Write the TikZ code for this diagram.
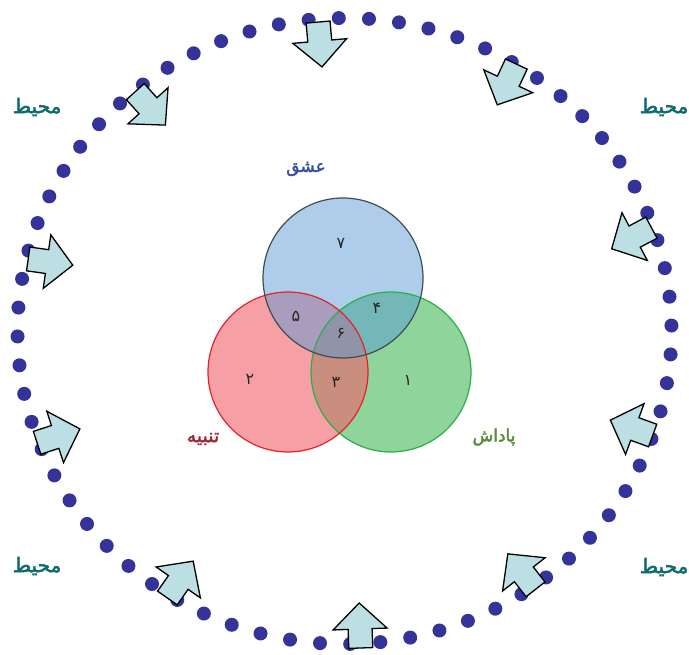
\documentclass[tikz,border=0pt]{standalone}
\usepackage{fontspec}
\newfontfamily\arabicfont[Script=Arabic]{DejaVu Sans}
\newfontfamily\arabicbold[Script=Arabic,FakeBold=2.2]{DejaVu Sans}
\TeXXeTstate=1
\definecolor{dotblue}{HTML}{333399}
\definecolor{arrfill}{HTML}{BCDFE3}
\definecolor{tealtxt}{HTML}{0E6B6B}
\definecolor{lovetxt}{HTML}{3B4EA6}
\definecolor{puntxt}{HTML}{9E2A36}
\definecolor{rewtxt}{HTML}{5B8A3C}
\definecolor{bluefill}{HTML}{5B9BD5}
\definecolor{bluestroke}{HTML}{3E4C52}
\definecolor{redfill}{HTML}{F0606A}
\definecolor{redstroke}{HTML}{E4202A}
\definecolor{greenfill}{HTML}{8FD59B}
\definecolor{greenstroke}{HTML}{2AAE4A}
\begin{document}
\begin{tikzpicture}[x=1pt,y=-1pt,
  envlabel/.style={font=\arabicbold\fontsize{20}{22}\selectfont, text=tealtxt},
  setlabel/.style={font=\arabicbold\fontsize{17}{20}\selectfont},
  numlabel/.style={font=\arabicfont\fontsize{16}{18}\selectfont, text=black!85},
  dotstyle/.style={fill=dotblue, draw=none},
  arrowshape/.style={fill=arrfill, draw=black, line width=1.3pt, line join=miter}]
\useasboundingbox (0,0) rectangle (689,655);
% dotted ring
\foreach \i in {0,...,67}{
  \pgfmathsetmacro{\ang}{91+\i*5.29412}
  \fill[dotstyle] ({344.5+327*cos(\ang)},{331-313*sin(\ang)}) circle (7);
}
% Venn circles
\coordinate (cb) at (343,278);
\coordinate (cr) at (288,372);
\coordinate (cg) at (391,372);
\fill[greenfill] (cg) circle (80);
\fill[redfill, fill opacity=0.6] (cr) circle (80);
\fill[bluefill, fill opacity=0.5] (cb) circle (80);
\draw[greenstroke, line width=1.2pt] (cg) circle (80);
\draw[redstroke, line width=1.2pt] (cr) circle (80);
\draw[bluestroke, line width=1.2pt] (cb) circle (80);
% numbers
\node[numlabel] (n7) at (341,243) {\beginR ۷\endR};
\node[numlabel] (n5) at (296,316) {\beginR ۵\endR};
\node[numlabel] (n4) at (377,308) {\beginR ۴\endR};
\node[numlabel] (n6) at (341,333) {\beginR ۶\endR};
\node[numlabel] (n2) at (250,379) {\beginR ۲\endR};
\node[numlabel] (n3) at (336,382) {\beginR ۳\endR};
\node[numlabel] (n1) at (408,380) {\beginR ۱\endR};
% set labels
\node[setlabel, text=lovetxt] (love) at (306,169) {\beginR عشق\endR};
\node[setlabel, text=puntxt, font=\arabicbold\fontsize{19}{21}\selectfont] (pun) at (203,439) {\beginR تنبیه\endR};
\node[setlabel, text=rewtxt] (rew) at (494,437) {\beginR پاداش\endR};
% environment labels
\node[envlabel] (e1) at (37,107) {\beginR محیط\endR};
\node[envlabel] (e2) at (664,107) {\beginR محیط\endR};
\node[envlabel] (e3) at (37,566) {\beginR محیط\endR};
\node[envlabel] (e4) at (664,567) {\beginR محیط\endR};
% block arrows
\foreach \x/\y/\a in {320/44/-85, 507/84/-115, 150/108/-48, 632/238/-152, 50/262/-8,
                      632/428/160, 58/436/18, 522/572/128, 180/580/55, 360/626/92}{
  \begin{scope}[shift={(\x,\y)}, rotate=\a]
    \filldraw[arrowshape] (-22,-12) -- (-3,-12) -- (-3,-27) -- (23,0) -- (-3,27) -- (-3,12) -- (-22,12) -- cycle;
  \end{scope}
}
\end{tikzpicture}
\end{document}
